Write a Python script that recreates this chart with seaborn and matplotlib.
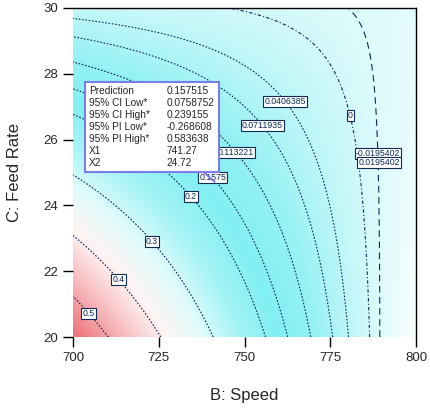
import numpy as np
import seaborn as sns
import matplotlib.pyplot as plt
from matplotlib.offsetbox import AnnotationBbox, TextArea, HPacker

# Points where the contour lines cross (speed, feed rate, level)
pt_speed = [710, 700, 705.2, 725, 700, 713.7, 740.5, 700, 723.6,
            756, 734.4, 762.7, 741.27, 769.1, 700, 747.8,
            775.5, 700, 755.4, 780.2, 700, 737.0, 761.8,
            786.6, 746.6, 766.2, 775.8, 780.2, 784.3,
            790.1, 780.2, 787.5, 788.9, 789.2]
pt_feed = [20, 21.19, 20.79, 20, 23.04, 21.79, 20, 24.89, 22.95,
           20, 24.29, 20, 24.72, 20, 28.33, 25.62,
           20, 29.12, 26.44, 20, 29.70, 28.88, 27.17,
           20, 30, 29.24, 28.21, 26.96, 23.56,
           20, 30, 27.29, 25.68, 23.34]
pt_level = [0.5, 0.5, 0.5, 0.4, 0.4, 0.4, 0.3, 0.3, 0.3,
            0.2, 0.2, 0.157515, 0.157515, 0.113221, 0.113221, 0.113221,
            0.0711935, 0.0711935, 0.0711935, 0.0406385, 0.0406385, 0.0406385, 0.0406385,
            0, 0, 0, 0, 0, 0,
            -0.0195402, -0.0195402, -0.0195402, -0.0195402, -0.0195402]

# contour levels and their printed labels
levels = [-0.0195402, 0, 0.0406385, 0.0711935, 0.113221, 0.157515, 0.2, 0.3, 0.4, 0.5]
level_text = ["-0.0195402", "0", "0.0406385", "0.0711935", "0.113221",
              "0.1575", "0.2", "0.3", "0.4", "0.5"]
label_speed = [788.9, 780.8, 761.8, 755.4, 747.8, 740.8, 734.4, 723.6, 713.7, 705.2]
label_feed = [25.59, 26.72, 27.17, 26.44, 25.62, 24.86, 24.29, 22.95, 21.79, 20.79]
extra_label = "0.0195402"
extra_speed, extra_feed = 789.2, 25.3

# prediction flag
flag_speed, flag_feed = 741.27, 24.72
flag_names = ["Prediction", "95% CI Low*", "95% CI High*", "95% PI Low*",
              "95% PI High*", "X1", "X2"]
flag_values = ["0.157515", "0.0758752", "0.239155", "-0.268608",
               "0.583638", "741.27", "24.72"]

x_ticks = [700, 725, 750, 775, 800]
y_ticks = [20, 22, 24, 26, 28, 30]

# colours from low to high response
cmap_colors = ["#ffffff", "#e2fbfc", "#bcf6f8", "#93f1f4", "#82eff2", "#a6f4f6",
               "#e0fbfb", "#fff4f4", "#f8c2c5", "#f08c92", "#e8505a"]

sns.set_style("white")
plt.rcParams["font.family"] = ["Liberation Sans", "DejaVu Sans"]

# quadratic response surface through the read crossings
def design(s, f):
    a = (np.asarray(s) - 750) / 50
    b = (np.asarray(f) - 25) / 5
    return np.stack([np.ones_like(a), a, b, a * b, a ** 2, b ** 2], axis=-1)

coef, *_ = np.linalg.lstsq(design(pt_speed, pt_feed), np.array(pt_level), rcond=None)

speeds = np.linspace(700, 800, 301)
feeds = np.linspace(20, 30, 301)
S, F = np.meshgrid(speeds, feeds)
Z = design(S, F) @ coef

cmap = sns.blend_palette(cmap_colors, n_colors=256, as_cmap=True)

fig = plt.figure(figsize=(4.3, 4.08), dpi=100)
ax = fig.add_axes([0.1698, 0.174, 0.7977, 0.8064])

ax.imshow(Z, extent=[700, 800, 20, 30], origin="lower", aspect="auto",
          cmap=cmap, vmin=-0.1, vmax=0.6, interpolation="bilinear")

line_color = "#0e2a55"
styles = [(0, (6, 4)), (0, (3, 2, 1, 2))] + [(0, (1.5, 1.5))] * 8
cs = ax.contour(S, F, Z, levels=levels, colors=line_color,
                linewidths=0.8, linestyles=styles)

fmt = dict(zip(levels, level_text))
labels = ax.clabel(cs, levels=levels, manual=list(zip(label_speed, label_feed)),
                   inline=False, fmt=fmt, fontsize=6.3, colors=line_color)
box_style = dict(boxstyle="square,pad=0.12", fc="white", ec=line_color, lw=0.8)
for t in labels:
    t.set_rotation(0)
    t.set_bbox(box_style)
    t.set_zorder(5)
ax.text(extra_speed, extra_feed, extra_label, fontsize=6.3, color=line_color,
        ha="center", va="center", bbox=box_style, zorder=5)

# flag box with prediction details
names = TextArea("\n".join(flag_names), textprops=dict(fontsize=7.3, linespacing=1.25))
vals = TextArea("\n".join(flag_values), textprops=dict(fontsize=7.3, linespacing=1.25))
pack = HPacker(children=[names, vals], sep=12, align="top", pad=0)
ab = AnnotationBbox(pack, (flag_speed, flag_feed), xybox=(0, 10),
                    xycoords="data", boxcoords="offset points",
                    box_alignment=(1, 0), pad=0.3,
                    bboxprops=dict(edgecolor="#7a7ee6", linewidth=1.5, facecolor="white"),
                    arrowprops=dict(arrowstyle="-", color="#7a7ee6", lw=1.5,
                                    shrinkA=0, shrinkB=0))
ab.set_zorder(6)
ax.add_artist(ab)

ax.set_xlim(700, 800)
ax.set_ylim(20, 30)
ax.set_xticks(x_ticks)
ax.set_yticks(y_ticks)
ax.tick_params(direction="out", length=7, width=1, color="black",
               labelsize=9.5, pad=4, bottom=True, left=True)
for side in ["left", "bottom"]:
    ax.spines[side].set_visible(False)
for side in ["top", "right"]:
    ax.spines[side].set_color("black")
    ax.spines[side].set_linewidth(1)

ax.set_xlabel("B: Speed", fontsize=12, labelpad=17)
ax.set_ylabel("C: Feed Rate", fontsize=12, labelpad=15)

fig.savefig("out.png", dpi=100)
